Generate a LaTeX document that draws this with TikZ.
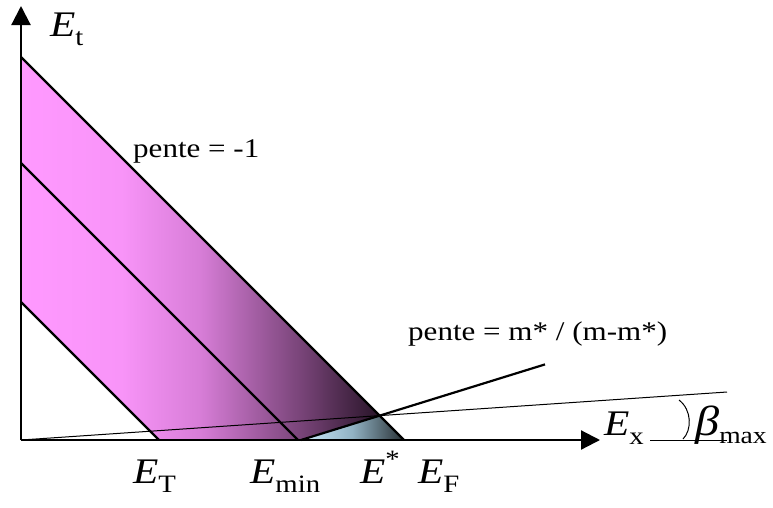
\documentclass[tikz,border=0pt]{standalone}
\usepackage{fontspec}
\setmainfont{Liberation Serif}[FakeStretch=1.15]
\usetikzlibrary{arrows.meta,calc}
\definecolor{pk0}{RGB}{255,153,255}
\definecolor{pk1}{RGB}{248,148,248}
\definecolor{pk2}{RGB}{215,125,215}
\definecolor{pk3}{RGB}{120,68,120}
\definecolor{pk4}{RGB}{40,20,40}
\definecolor{bl0}{RGB}{205,235,252}
\definecolor{bl1}{RGB}{145,178,195}
\definecolor{bl2}{RGB}{40,48,52}
\pgfdeclarehorizontalshading{pinkshade}{100bp}{color(0bp)=(pk0); color(25bp)=(pk0); color(39bp)=(pk1); color(50bp)=(pk2); color(64bp)=(pk3); color(75bp)=(pk4); color(100bp)=(pk4)}
\pgfdeclarehorizontalshading{blueshade}{100bp}{color(0bp)=(bl0); color(25bp)=(bl0); color(50bp)=(bl1); color(75bp)=(bl2); color(100bp)=(bl2)}
\newcommand{\Ev}[1]{\textit{E}\raisebox{-0.25em}{\fontsize{25}{25}\selectfont #1}}
\begin{document}
\begin{tikzpicture}[x=1pt,y=-1pt,line join=round,
  bold/.style={line width=2.2pt},
  thinline/.style={line width=1pt},
  axis/.style={line width=2.2pt,-{Triangle[length=19pt,width=19pt]}},
  elabel/.style={font=\fontsize{36}{40}\selectfont,inner sep=0pt,anchor=base west},
  pente/.style={font=\fontsize{27}{30}\selectfont,inner sep=0pt,anchor=base west}]
\useasboundingbox (0,0) rectangle (773,507);
\coordinate (O) at (21,440);
\coordinate (Ytip) at (21,6);
\coordinate (Xtip) at (600,440);
\coordinate (A1) at (21,57);
\coordinate (F) at (404,440);
\coordinate (A2) at (21,163);
\coordinate (B2) at (298,440);
\coordinate (A3) at (21,302);
\coordinate (T) at (159,440);
\coordinate (M) at (301,440);
\coordinate (S) at (545,364.4);
\coordinate (P) at (intersection of A1--F and M--S);
\coordinate (Bt) at (727,392);
\coordinate (H1) at (650,440);
\coordinate (H2) at (727,440);
\coordinate (R1) at (679,400);
\coordinate (R2) at (683,439);
% fills
\shade[shading=pinkshade] (A1) -- (P) -- (M) -- (T) -- (A3) -- cycle;
\shade[shading=blueshade] (M) -- (P) -- (F) -- cycle;
% lines
\draw[bold] (A1) -- (F);
\draw[bold] (A2) -- (B2);
\draw[bold] (A3) -- (T);
\draw[bold] (M) -- (S);
\draw[thinline] (O) -- (Bt);
\draw[thinline] (H1) -- (H2);
\draw[thinline] (R1) .. controls (692,410) and (692,430) .. (R2);
\draw[axis] (O) -- (Ytip);
\draw[axis] (O) -- (Xtip);
% labels
\node[elabel] (lEt) at (50,36) {\Ev{t}};
\node[elabel] (lET) at (133,483) {\Ev{T}};
\node[elabel] (lEmin) at (250,483) {\Ev{min}};
\node[elabel] (lEs) at (360,483) {\textit{E}\raisebox{0.42em}{\fontsize{25}{25}\selectfont *}};
\node[elabel] (lEF) at (418,483) {\Ev{F}};
\node[elabel] (lEx) at (604,435) {\Ev{x}};
\node[elabel,font=\fontsize{42}{46}\selectfont] (lb) at (695,435) {\textit{β}\raisebox{-0.2em}{\fontsize{24}{24}\selectfont max}};
\node[pente] (p1) at (133,157) {pente = -1};
\node[pente] (p2) at (408,340) {pente = m* / (m-m*)};
\end{tikzpicture}
\end{document}
